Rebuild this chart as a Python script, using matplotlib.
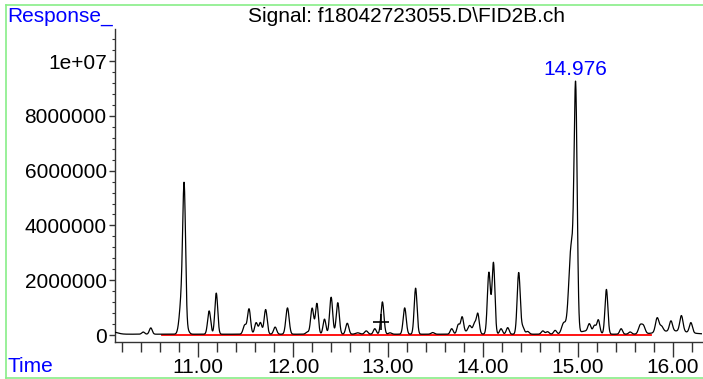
import numpy as np
import matplotlib
matplotlib.use("Agg")
import matplotlib.pyplot as plt
from matplotlib.lines import Line2D

plt.rcParams['font.family'] = ['Liberation Sans', 'DejaVu Sans']

# ---- data (retention time [min], height [counts], width sigma [min])
peak_rt = [10.10, 10.42, 10.50, 10.825, 10.852, 10.89, 11.115, 11.19, 11.49, 11.535,
           11.61, 11.655, 11.71, 11.81, 11.94, 12.15, 12.20, 12.25, 12.33, 12.40,
           12.47, 12.57, 12.68, 12.77, 12.86, 12.94, 13.02, 13.175, 13.29, 13.47,
           13.67, 13.74, 13.78, 13.86, 13.91, 13.945, 13.85, 14.062, 14.11, 14.19,
           14.26, 14.376, 14.42, 14.47, 14.63, 14.68, 14.76, 14.85, 14.93, 14.976,
           15.10, 15.12, 15.175, 15.215, 15.30, 15.455, 15.55, 15.655, 15.69, 15.835,
           15.88, 15.98, 16.09, 16.19, 16.00]
peak_height = [0.08e6, 0.08e6, 0.23e6, 1.3e6, 4.9e6, 0.12e6, 0.85e6, 1.5e6, 0.33e6, 0.92e6,
               0.42e6, 0.42e6, 0.9e6, 0.26e6, 0.96e6, 0.08e6, 0.95e6, 1.12e6, 0.55e6, 1.35e6,
               1.15e6, 0.4e6, 0.05e6, 0.12e6, 0.2e6, 1.18e6, 0.05e6, 0.96e6, 1.68e6, 0.06e6,
               0.2e6, 0.33e6, 0.58e6, 0.22e6, 0.32e6, 0.72e6, 0.1e6, 2.25e6, 2.6e6, 0.2e6,
               0.24e6, 2.25e6, 0.24e6, 0.1e6, 0.12e6, 0.09e6, 0.14e6, 0.4e6, 3.2e6, 8.5e6,
               0.12e6, 0.27e6, 0.24e6, 0.48e6, 1.63e6, 0.2e6, 0.08e6, 0.3e6, 0.28e6, 0.53e6,
               0.2e6, 0.37e6, 0.58e6, 0.37e6, 0.12e6]
peak_sigma = [0.05, 0.015, 0.015, 0.022, 0.015, 0.017, 0.016, 0.015, 0.017, 0.016,
              0.016, 0.015, 0.016, 0.016, 0.017, 0.017, 0.016, 0.015, 0.015, 0.016,
              0.016, 0.016, 0.022, 0.017, 0.015, 0.016, 0.017, 0.016, 0.015, 0.017,
              0.015, 0.015, 0.015, 0.017, 0.015, 0.015, 0.06, 0.016, 0.015, 0.015,
              0.015, 0.016, 0.015, 0.017, 0.016, 0.016, 0.016, 0.022, 0.026, 0.016,
              0.08, 0.015, 0.015, 0.015, 0.015, 0.015, 0.016, 0.018, 0.018, 0.018,
              0.018, 0.016, 0.017, 0.016, 0.15]
baseline_level = 0.03e6
time_start, time_end = 10.10, 16.31

baseline_rt = [10.615, 15.77]     # red integration baseline
baseline_val = [0.0, 0.0]

marker_rt, marker_val = 12.93, 0.49e6
apex_label_rt, apex_label_val, apex_label = 14.976, 9.35e6, "14.976"

xticks = [11, 12, 13, 14, 15, 16]
xtick_labels = ["11.00", "12.00", "13.00", "14.00", "15.00", "16.00"]
yticks = [0, 2e6, 4e6, 6e6, 8e6, 1e7]
ytick_labels = ["0", "2000000", "4000000", "6000000", "8000000", "1e+07"]

title = "Signal: f18042723055.D\\FID2B.ch"

# ---- build trace from peak table
t = np.linspace(time_start, time_end, 4000)
sig = np.full_like(t, baseline_level)
for rt, h, s in zip(peak_rt, peak_height, peak_sigma):
    sig += h * np.exp(-0.5 * ((t - rt) / s) ** 2)

W, H = 703, 379
FS = 15
fig = plt.figure(figsize=(W / 100, H / 100), dpi=100)
ax = fig.add_axes([115 / W, 1 - 342 / H, (702 - 115) / W, (342 - 29) / H])

ax.plot(baseline_rt, baseline_val, color='#ff0000', lw=1.3, zorder=2)
ax.plot(t, sig, color='black', lw=0.9, zorder=3)
ax.plot([marker_rt], [marker_val], marker='+', color='black', ms=11, mew=1.2, zorder=4)
ax.text(apex_label_rt, apex_label_val, apex_label, color='#0000ff', fontsize=FS,
        ha='center', va='bottom')

ax.set_xlim(10.123, 16.307)
ax.set_ylim(-0.255e6, 11.17e6)

for s in ['top', 'right']:
    ax.spines[s].set_visible(False)
for s in ['left', 'bottom']:
    ax.spines[s].set_color('#333333')
    ax.spines[s].set_linewidth(1.0)

ax.set_xticks(xticks)
ax.set_xticklabels(xtick_labels)
ax.set_xticks(np.arange(10.2, 16.3, 0.2), minor=True)
ax.set_yticks(yticks)
ax.set_yticklabels(ytick_labels)
ax.set_yticks(np.arange(0, 11.1e6, 0.4e6), minor=True)

ax.tick_params(axis='x', which='major', length=11, width=1, color='#333333',
               labelsize=FS, pad=0.5)
ax.tick_params(axis='x', which='minor', length=7, width=1, color='#333333')
ax.tick_params(axis='y', which='major', length=4, width=1, color='#333333',
               labelsize=FS, pad=2)
ax.tick_params(axis='y', which='minor', length=2, width=0.8, color='#333333')

fig.text(7 / W, 1 - 16.5 / H, "Response_", color='#0000ff', fontsize=FS,
         ha='left', va='center')
fig.text(407 / W, 1 - 16.5 / H, title, color='black', fontsize=FS,
         ha='center', va='center')
fig.text(7 / W, 1 - 366.5 / H, "Time", color='#0000ff', fontsize=FS,
         ha='left', va='center')

# light green frame
green = '#88ee88'
fig.add_artist(Line2D([6 / W, 6 / W], [1 - 377.5 / H, 1 - 4.5 / H], color=green, lw=1.2,
                      transform=fig.transFigure))
fig.add_artist(Line2D([6 / W, 1], [1 - 4.5 / H, 1 - 4.5 / H], color=green, lw=1.2,
                      transform=fig.transFigure))
fig.add_artist(Line2D([6 / W, 1], [1 - 377.5 / H, 1 - 377.5 / H], color=green, lw=1.2,
                      transform=fig.transFigure))

fig.savefig("out.png", dpi=100)
